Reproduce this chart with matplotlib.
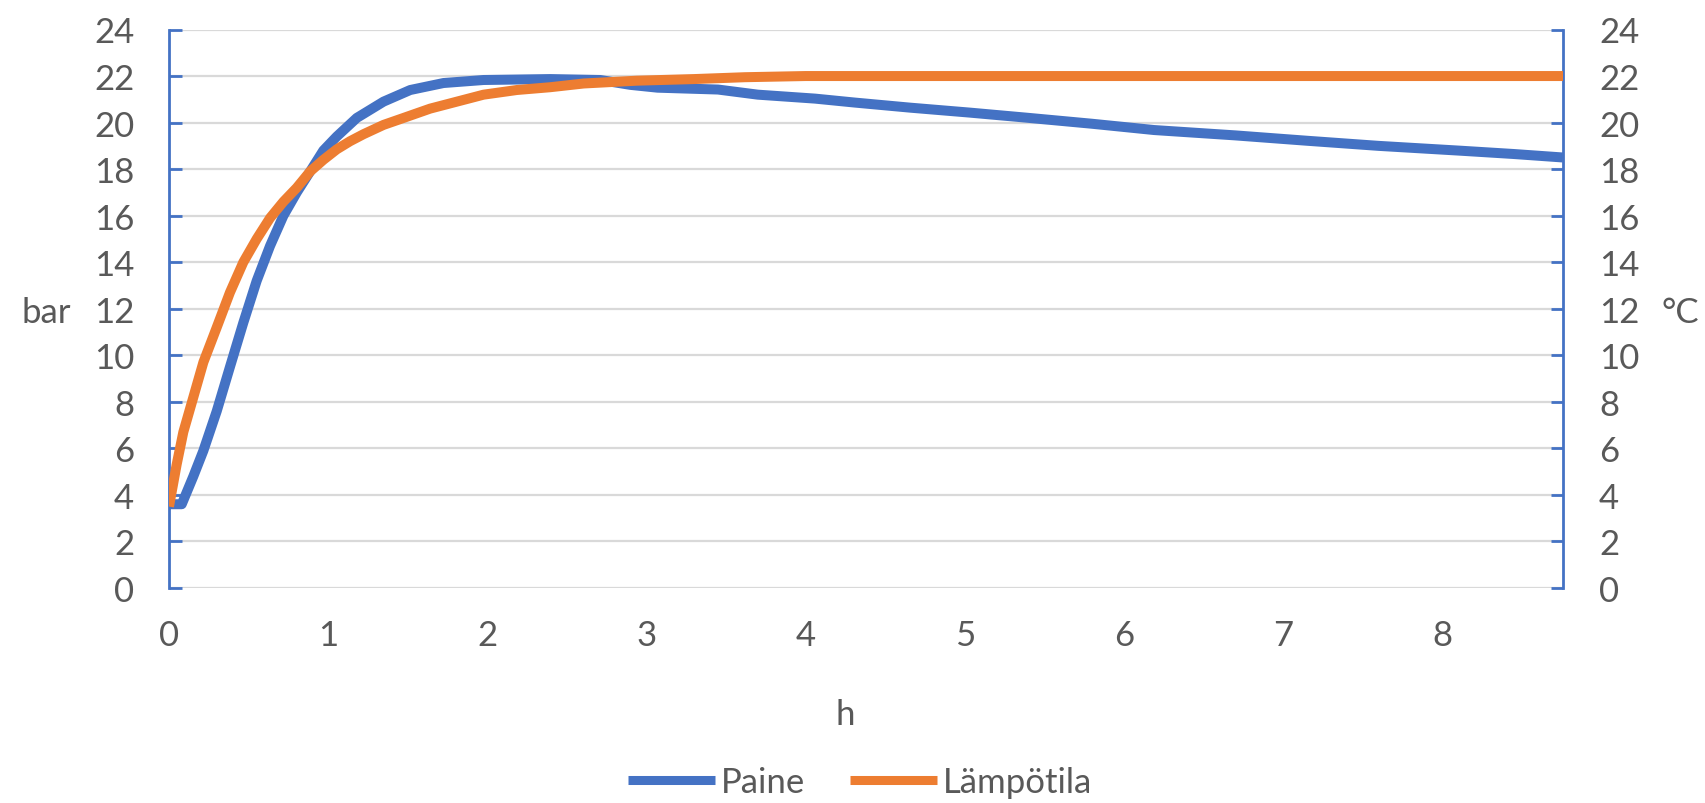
import matplotlib
matplotlib.use("Agg")
import matplotlib.pyplot as plt
from matplotlib.lines import Line2D

plt.rcParams['font.family'] = ['Lato', 'DejaVu Sans']

# Pressure (bar) over time (h)
paine_h = [0.0, 0.08, 0.153, 0.216, 0.30, 0.383, 0.467, 0.551, 0.635, 0.719,
           0.803, 0.887, 0.97, 1.054, 1.18, 1.348, 1.516, 1.725, 1.977, 2.396,
           2.71, 2.9, 3.07, 3.45, 3.70, 4.06, 4.31, 4.66, 5.03, 5.39, 5.8,
           6.19, 6.7, 7.15, 7.6, 8.12, 8.45, 8.76]
paine_bar = [3.6, 3.6, 4.8, 5.9, 7.6, 9.5, 11.4, 13.2, 14.7, 16.0,
             17.0, 17.9, 18.8, 19.4, 20.2, 20.9, 21.4, 21.7, 21.83, 21.87,
             21.83, 21.62, 21.5, 21.42, 21.2, 21.03, 20.86, 20.64, 20.43, 20.21, 19.95,
             19.68, 19.45, 19.22, 19.0, 18.79, 18.65, 18.5]

# Temperature (°C) over time (h)
lampo_h = [0.0, 0.048, 0.09, 0.153, 0.216, 0.30, 0.383, 0.467, 0.551, 0.635,
           0.719, 0.803, 0.887, 0.97, 1.054, 1.138, 1.222, 1.348, 1.474, 1.641,
           1.809, 1.977, 2.186, 2.396, 2.606, 2.94, 3.3, 3.62, 4.0, 6.0, 8.76]
lampo_c = [3.5, 5.3, 6.7, 8.2, 9.7, 11.2, 12.7, 14.0, 15.0, 15.9,
           16.6, 17.2, 17.9, 18.4, 18.85, 19.2, 19.5, 19.9, 20.2, 20.6,
           20.9, 21.2, 21.4, 21.52, 21.68, 21.8, 21.87, 21.95, 22.0, 22.0, 22.0]

y_ticks = list(range(0, 25, 2))
x_ticks = list(range(0, 9))

BLUE = '#4472C4'
ORANGE = '#ED7D31'
GRID = '#D9D9D9'
TEXT = '#595959'
FS = 25
LW = 7.2

W, H = 1706, 804
fig = plt.figure(figsize=(W / 100, H / 100), dpi=100)
left, right, bottom, top = 169 / W, 1563 / W, 1 - 589 / H, 1 - 30.5 / H
ax = fig.add_axes([left, bottom, right - left, top - bottom])
ax2 = ax.twinx()

for a in (ax, ax2):
    a.set_xlim(0, 8.76)
    a.set_ylim(0, 24)
    a.set_yticks(y_ticks)
    for s in a.spines.values():
        s.set_visible(False)

ax.set_xticks(x_ticks)
ax.grid(axis='y', color=GRID, linewidth=1.6, zorder=0)
ax.set_axisbelow(True)

ax.spines['left'].set_visible(True)
ax.spines['left'].set_color(BLUE)
ax.spines['left'].set_linewidth(2)
ax2.spines['right'].set_visible(True)
ax2.spines['right'].set_color(BLUE)
ax2.spines['right'].set_linewidth(2)

ax.tick_params(axis='y', direction='in', length=9, width=2, color=BLUE,
               labelcolor=TEXT, labelsize=FS, pad=25)
ax.tick_params(axis='x', length=0, labelcolor=TEXT, labelsize=FS, pad=22)
ax2.tick_params(axis='y', direction='in', length=9, width=2, color=BLUE,
                labelcolor=TEXT, labelsize=FS, pad=26)

ax.plot(paine_h, paine_bar, color=BLUE, linewidth=LW, solid_joinstyle='round',
        solid_capstyle='butt', zorder=3)
ax2.plot(lampo_h, lampo_c, color=ORANGE, linewidth=LW, solid_joinstyle='round',
         solid_capstyle='butt', zorder=3)

fig.text(46 / W, 1 - 313 / H, 'bar', color=TEXT, fontsize=FS, ha='center', va='center')
fig.text(1680 / W, 1 - 313 / H, '°C', color=TEXT, fontsize=FS, ha='center', va='center')
fig.text(845 / W, 1 - 715 / H, 'h', color=TEXT, fontsize=FS, ha='center', va='center')

handles = [Line2D([], [], color=BLUE, linewidth=6.5, solid_capstyle='butt'),
           Line2D([], [], color=ORANGE, linewidth=6.5, solid_capstyle='butt')]
fig.legend(handles, ['Paine', 'Lämpötila'], loc='center', ncol=2,
           bbox_to_anchor=(860 / W, 1 - 783 / H), frameon=False, fontsize=FS,
           labelcolor=TEXT, handlelength=2.5, handletextpad=0.17, columnspacing=1.28,
           borderpad=0, borderaxespad=0)

fig.savefig('out.png', dpi=100, facecolor='white')
